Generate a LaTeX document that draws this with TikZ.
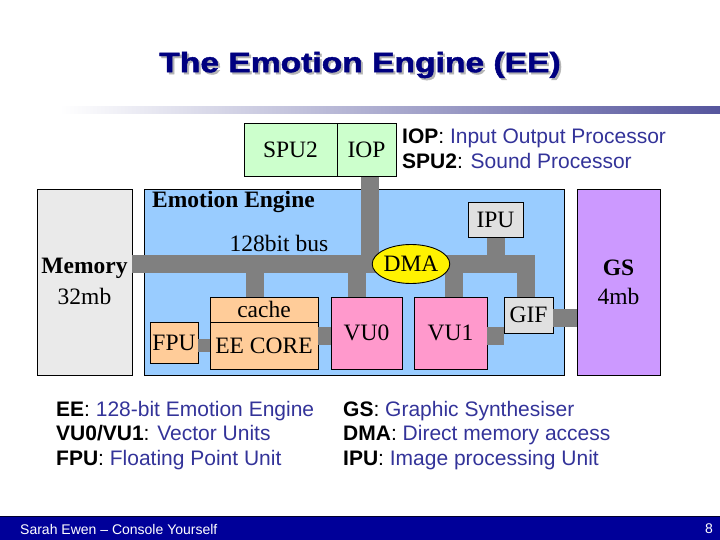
\documentclass[tikz,border=0pt]{standalone}
\usepackage{fontspec}
\usepackage{graphicx}
\usetikzlibrary{shapes.geometric}
\setmainfont{Liberation Serif}
\newfontfamily\arial{Liberation Sans}
\newfontfamily\titlefont[FakeBold=1.5]{Liberation Sans Bold}
\definecolor{eeblue}{HTML}{99CCFF}
\definecolor{memgray}{HTML}{EAEAEA}
\definecolor{gspurple}{HTML}{CC99FF}
\definecolor{iopgreen}{HTML}{CCFFCC}
\definecolor{coreorange}{HTML}{FFCC99}
\definecolor{vupink}{HTML}{FF99CC}
\definecolor{unitgray}{HTML}{E0E0E0}
\definecolor{busgray}{HTML}{808080}
\definecolor{legnavy}{HTML}{333399}
\definecolor{titlenavy}{HTML}{000080}
\definecolor{shadowgray}{HTML}{B4B4B4}
\definecolor{footblue}{HTML}{000099}
\definecolor{rulenavy}{HTML}{55559D}
\newcommand\labfont{\fontsize{23.5}{26}\selectfont}
\newcommand\legfont{\arial\fontsize{21}{24.5}\selectfont}
\newcommand\titletext{\scalebox{1.2}[1]{The Emotion Engine (EE)}}
\begin{document}
\begin{tikzpicture}[x=1pt,y=-1pt,
  box/.style={draw=black, line width=0.9pt, inner sep=0pt, font=\labfont, text=black},
  bus/.style={draw=busgray, line width=18pt},
  legend/.style={anchor=west, font=\legfont, align=left, inner sep=0pt}]
\useasboundingbox (0,0) rectangle (720,540);
% title with shadow
\node[font=\titlefont\fontsize{28}{30}\selectfont, inner sep=0pt] (title) at (360,66)
  {\makebox[0pt][l]{\hspace{2pt}\raisebox{-2pt}{\textcolor{shadowgray}{\titletext}}}\textcolor{titlenavy}{\titletext}};
\shade[left color=white, right color=rulenavy] (60,107) rectangle (720,114);
% big boxes
\node[box, fill=memgray, minimum width=95pt, minimum height=186pt] (mem) at (84.5,282) {};
\node[box, fill=eeblue, minimum width=420pt, minimum height=186pt] (ee) at (354,282) {};
\node[box, fill=gspurple, minimum width=83pt, minimum height=186pt] (gs) at (618.5,282) {};
\node[box, fill=iopgreen, minimum width=93pt, minimum height=53pt] (spu) at (290.5,150) {SPU2};
\node[box, fill=iopgreen, minimum width=59pt, minimum height=53pt] (iop) at (366.5,150) {IOP};
% labels in big boxes
\node[font=\labfont\bfseries, inner sep=0pt] (memlab) at (84.5,268) {Memory};
\node[font=\labfont, inner sep=0pt] (memsize) at (84.5,296) {32mb};
\node[font=\labfont\bfseries, inner sep=0pt] (gslab) at (618.5,268) {GS};
\node[font=\labfont, inner sep=0pt] (gssize) at (618.5,296) {4mb};
\node[font=\labfont\bfseries, anchor=west, inner sep=0pt] (eelab) at (152,202) {Emotion Engine};
\node[font=\labfont, inner sep=0pt] (buslab) at (279,243) {128bit bus};
% bus junction points
\coordinate (dmac) at (411,264);
\coordinate (rc) at (525.5,264);
\path (264,309.5) coordinate (cachec) (264,345.5) coordinate (corec);
% buses
\draw[bus] (mem.east |- dmac) -- (dmac);
\draw[bus, line join=miter] (dmac) -- (rc) -- (rc |- 0,297);
\draw[bus] ([xshift=3pt]iop.south) -- ([xshift=3pt]iop.south |- dmac);
\draw[bus] (255,297) -- (255,264);
\draw[bus] (357,297) -- (357,264);
\draw[bus] (453.5,297) -- (453.5,264);
\draw[bus] (495.5,237) -- (495.5,264);
% inner boxes
\node[box, fill=coreorange, minimum width=108pt, minimum height=25pt] (cache) at (cachec) {cache};
\node[box, fill=coreorange, minimum width=108pt, minimum height=47pt] (core) at (corec) {EE CORE};
\node[box, fill=coreorange, minimum width=48pt, minimum height=41pt] (fpu) at (174,342.5) {FPU};
\node[box, fill=vupink, minimum width=71pt, minimum height=72pt] (vu0) at (366.5,333) {VU0};
\node[box, fill=vupink, minimum width=73pt, minimum height=72pt] (vu1) at (450.5,333) {VU1};
\node[box, fill=unitgray, minimum width=49pt, minimum height=36pt] (gif) at (528.5,315) {GIF};
\node[box, fill=unitgray, minimum width=55pt, minimum height=35pt] (ipu) at (495.5,219.5) {IPU};
\node[box, ellipse, fill=yellow, minimum width=66pt, minimum height=39pt] (dma) at (dmac) {DMA};
% side connectors
\draw[bus, line width=13pt] ([yshift=-3pt]fpu.east) -- ([yshift=-3pt]fpu.east -| core.west);
\draw[bus] ([yshift=9.5pt]core.east) -- ([yshift=9.5pt]core.east -| vu0.west);
\draw[bus] ([yshift=-3pt]vu1.east) -- ([yshift=-3pt]vu1.east -| gif.west);
\draw[bus] ([yshift=-3pt]gif.east) -- ([yshift=-3pt]gif.east -| gs.west);
% legends
\node[legend] (legtop) at (402,149) {\textbf{IOP}: \textcolor{legnavy}{Input Output Processor}\\\textbf{SPU2}: \textcolor{legnavy}{Sound Processor}};
\node[legend] (legleft) at (56,435.5) {\textbf{EE}: \textcolor{legnavy}{128-bit Emotion Engine}\\\textbf{VU0/VU1}: \textcolor{legnavy}{Vector Units}\\\textbf{FPU}: \textcolor{legnavy}{Floating Point Unit}};
\node[legend] (legright) at (343,435.5) {\textbf{GS}: \textcolor{legnavy}{Graphic Synthesiser}\\\textbf{DMA}: \textcolor{legnavy}{Direct memory access}\\\textbf{IPU}: \textcolor{legnavy}{Image processing Unit}};
% footer
\fill[footblue] (0,516) rectangle (720,540);
\draw[black!70!footblue, line width=1pt] (0,516.5) -- (720,516.5);
\node[anchor=west, text=white, font=\arial\fontsize{14}{16}\selectfont, inner sep=0pt] (foot) at (20,529) {Sarah Ewen – Console Yourself};
\node[anchor=east, text=white, font=\arial\fontsize{14}{16}\selectfont, inner sep=0pt] (page) at (713,529) {8};
\end{tikzpicture}
\end{document}
